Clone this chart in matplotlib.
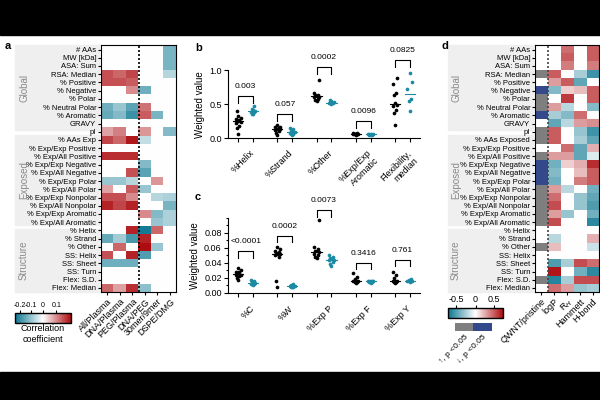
import numpy as np
import matplotlib.pyplot as plt
from matplotlib.colors import LinearSegmentedColormap, ListedColormap, TwoSlopeNorm
from matplotlib.patches import Rectangle
from matplotlib.cm import ScalarMappable

plt.rcParams['font.family'] = ['Liberation Sans', 'DejaVu Sans']
plt.rcParams['font.size'] = 6
plt.rcParams['axes.linewidth'] = 0.8

# ---------------- data ----------------
features = ['# AAs', 'MW [kDa]', 'ASA: Sum', 'RSA: Median', '% Positive', '% Negative',
            '% Polar', '% Neutral Polar', '% Aromatic', 'GRAVY', 'pI', '% AAs Exp',
            '% Exp/Exp Positive', '% Exp/All Positive', '% Exp/Exp Negative',
            '% Exp/All Negative', '% Exp/Exp Polar', '% Exp/All Polar',
            '% Exp/Exp Nonpolar', '% Exp/All Nonpolar', '% Exp/Exp Aromatic',
            '% Exp/All Aromatic', '% Helix', '% Strand', '% Other', 'SS: Helix',
            'SS: Sheet', 'SS: Turn', 'Flex: S.D.', 'Flex: Median']
features_d = features[:11] + ['% AAs Exposed'] + features[12:]

comparisons = ['All/Plasma', 'DNA/Plasma', 'PEG/Plasma', 'DNA/PEG', '30mer/9mer', 'DSPE/DMG']
all_plasma = [0, 0, 0, 0.15, 0.15, 0, 0, -0.14, -0.15, 0, 0.08, 0.16, 0, 0.18, 0,
              0, -0.10, 0.08, 0.15, 0.19, 0, 0, 0, -0.15, 0, 0.15, -0.14, 0, 0, 0.13]
dna_plasma = [0, 0, 0, 0.13, 0.15, 0, 0, -0.10, -0.12, 0, 0.11, 0.13, 0, 0.18, 0,
              0, -0.10, 0, 0.15, 0.16, 0, 0, 0, -0.09, 0.13, 0, -0.14, 0, 0, 0.08]
peg_plasma = [0, 0, 0, 0.16, 0.14, 0.10, 0, -0.16, -0.19, 0, 0, 0.20, 0, 0.18, 0,
              0.15, -0.07, 0.14, 0.10, 0.19, 0, 0, 0.19, -0.18, 0, 0.19, -0.14, 0, 0, 0.18]
dna_peg = [0, 0, 0, 0, 0, -0.14, 0, 0.12, 0.14, 0, 0.09, -0.06, 0, 0, -0.12,
           -0.16, 0, -0.10, 0, 0, 0.10, 0, -0.23, 0.19, 0.21, -0.17, 0, 0, 0, -0.11]
mer30_mer9 = [0, 0, 0, 0, 0, 0, 0, 0, -0.13, 0, 0, 0, 0, 0, 0,
              0, 0.09, 0, -0.07, 0, -0.12, -0.10, 0.13, 0, -0.10, 0, 0, 0, 0, 0]
dspe_dmg = [-0.13, -0.13, -0.13, -0.07, 0, 0, 0, 0, 0, 0, -0.12, 0, 0, 0, 0,
            0, 0, 0, -0.08, -0.13, -0.08, -0.08, 0, 0, 0, 0, 0, 0, 0, 0]

# QWNT/pristine significance: 0 none, 1 grey, 2 blue
qwnt_sig = [0, 0, 0, 1, 0, 2, 1, 1, 2, 0, 1, 1, 0, 1, 2,
            2, 2, 1, 1, 1, 1, 1, 0, 0, 1, 0, 0, 0, 1, 0]
descriptors = ['logP', 'R$_H$', 'Hammett', 'H-bond']
logp = [0, 0, 0, 0.5, 0.3, -0.35, 0, 0.3, -0.25, -0.45, 0.5, 0.5, 0, 0.3, -0.4,
        -0.35, -0.4, 0.3, 0.45, 0.55, 0.3, 0.55, 0, -0.2, 0.2, 0, -0.5, 0.72, -0.62, 0.45]
r_h = [0.45, 0.5, 0.4, 0, 0.5, 0.15, 0.6, -0.2, -0.35, -0.2, 0, 0, 0.45, 0.3, 0.15,
       0, 0, -0.2, 0, 0, -0.3, 0, 0, 0, 0, 0, -0.25, 0, -0.25, 0.3]
hammett = [0, 0, 0, -0.25, -0.45, 0.2, 0, 0, 0.45, 0.3, -0.3, -0.25, -0.45, -0.45, 0.25,
           0.2, 0.4, 0, -0.3, -0.3, 0, 0, 0, 0, 0, 0, 0.55, -0.4, 0.55, -0.3]
h_bond = [0.5, 0.5, 0.4, -0.55, 0, 0.5, 0.5, -0.35, 0, 0.35, -0.55, -0.45, 0.25, -0.1, 0.65,
          0.5, 0.5, -0.4, -0.45, -0.5, -0.4, -0.6, 0, 0.25, -0.15, 0, 0.45, -0.6, 0.55, -0.25]

# panel b
cats_b = ['%Helix', '%Strand', '%Other', '%Exp/Exp\nAromatic', 'Flexibility,\nmedian']
b_black = [[0.40, 0.32, 0.29, 0.28, 0.27, 0.26, 0.25, 0.24, 0.22, 0.18, 0.15, 0.07],
           [0.19, 0.17, 0.16, 0.15, 0.14, 0.14, 0.13, 0.12, 0.10, 0.08, 0.05],
           [0.86, 0.66, 0.64, 0.63, 0.62, 0.61, 0.60, 0.58, 0.56, 0.54],
           [0.08, 0.075, 0.07, 0.07, 0.065, 0.065, 0.06, 0.06, 0.055],
           [0.88, 0.79, 0.67, 0.63, 0.51, 0.49, 0.48, 0.41, 0.37, 0.19]]
b_teal = [[0.47, 0.43, 0.41, 0.40, 0.39, 0.38, 0.36, 0.35],
          [0.15, 0.13, 0.11, 0.10, 0.09, 0.08, 0.07, 0.06, 0.05],
          [0.56, 0.54, 0.53, 0.52, 0.52, 0.51, 0.50],
          [0.065, 0.06, 0.06, 0.06, 0.055, 0.055, 0.05],
          [0.96, 0.82, 0.72, 0.57, 0.54, 0.40]]
p_b = ['0.003', '0.057', '0.0002', '0.0096', '0.0825']
bracket_b = [0.62, 0.36, 1.04, 0.25, 1.15]

# panel c
cats_c = ['%C', '%W', '%Exp P', '%Exp F', '%Exp Y']
c_black = [[0.033, 0.030, 0.028, 0.027, 0.026, 0.025, 0.024, 0.023, 0.022, 0.020, 0.017],
           [0.061, 0.058, 0.056, 0.054, 0.053, 0.052, 0.051, 0.050, 0.048, 0.015, 0.007],
           [0.097, 0.061, 0.058, 0.056, 0.055, 0.054, 0.052, 0.050, 0.048, 0.046],
           [0.026, 0.021, 0.018, 0.016, 0.015, 0.015, 0.014, 0.014, 0.013],
           [0.028, 0.023, 0.019, 0.016, 0.015, 0.015, 0.014, 0.014, 0.013]]
c_teal = [[0.017, 0.015, 0.014, 0.013, 0.013, 0.012, 0.012, 0.011, 0.010],
          [0.011, 0.010, 0.009, 0.009, 0.009, 0.008, 0.008, 0.007],
          [0.050, 0.048, 0.046, 0.045, 0.044, 0.043, 0.041, 0.038, 0.035],
          [0.016, 0.016, 0.015, 0.015, 0.015, 0.014, 0.014, 0.013],
          [0.018, 0.017, 0.017, 0.016, 0.016, 0.015, 0.015, 0.014]]
p_c = ['<0.0001', '0.0002', '0.0073', '0.3416', '0.761']
bracket_c = [0.055, 0.076, 0.110, 0.040, 0.044]

# ---------------- helpers ----------------
W, H = 600, 400
TEAL = '#1d8aa3'
GREYBAND = '#efefef'
cmap = LinearSegmentedColormap.from_list('tr', ['#0a7690', '#ffffff', '#ad0c10'])
norm_a = TwoSlopeNorm(vmin=-0.24, vcenter=0, vmax=0.21)
norm_d = TwoSlopeNorm(vmin=-0.7, vcenter=0, vmax=0.75)


def box(x0, y0, x1, y1):
    return [x0 / W, 1 - y1 / H, (x1 - x0) / W, (y1 - y0) / H]


fig = plt.figure(figsize=(6, 4), dpi=100)
fig.patches.append(Rectangle((0, 1 - 35 / H), 1, 35 / H, transform=fig.transFigure,
                             color='black', zorder=-5))
fig.patches.append(Rectangle((0, 0), 1, 28 / H, transform=fig.transFigure,
                             color='black', zorder=-5))


def group_bands(x0, x1, labx):
    for (y0, y1, name) in [(45, 130, 'Global'), (135, 225, 'Exposed'), (229, 292, 'Structure')]:
        fig.patches.append(Rectangle((x0 / W, 1 - y1 / H), (x1 - x0) / W, (y1 - y0) / H,
                                     transform=fig.transFigure, color=GREYBAND, zorder=-4))
        fig.text(labx / W, 1 - (y0 + y1) / 2 / H, name, rotation=90, ha='center',
                 va='center', color='#8a8a8a', fontsize=7)


def style_heat(ax, labels, xlabels):
    ax.set_yticks(range(len(labels)))
    ax.set_yticklabels(labels, fontsize=5.5)
    ax.set_xticks(range(len(xlabels)))
    ax.set_xticklabels(xlabels, rotation=45, ha='right', rotation_mode='anchor', fontsize=6.5)
    ax.tick_params(length=2.5, width=0.8, pad=1)


# ---------------- panel a ----------------
group_bands(15, 99, 24)
ax_a = fig.add_axes(box(101, 45.4, 176, 292.1))
mat_a = np.column_stack([all_plasma, dna_plasma, peg_plasma, dna_peg, mer30_mer9, dspe_dmg])
ax_a.imshow(mat_a, cmap=cmap, norm=norm_a, aspect='auto', interpolation='nearest')
ax_a.axvline(2.5, color='black', lw=1.2, ls=(0, (1.2, 1.2)))
style_heat(ax_a, features, comparisons)

cax_a = fig.add_axes(box(15, 313, 71, 323))
cb = fig.colorbar(ScalarMappable(norm_a, cmap), cax=cax_a, orientation='horizontal')
cb.set_ticks([-0.2, -0.1, 0, 0.1])
cb.set_ticklabels(['-0.2', '-0.1', '0', '0.1'])
cax_a.xaxis.set_ticks_position('top')
cax_a.tick_params(labelsize=5.1, length=2, pad=1)
cb.outline.set_linewidth(1)
fig.text(43 / W, 1 - 334 / H, 'Correlation\ncoefficient', ha='center', va='center', fontsize=6.5)

# ---------------- panel d ----------------
group_bands(448, 533, 456)
ax_d = fig.add_axes(box(535, 45.4, 599, 292.1))
sig_cmap = ListedColormap(['#ffffff', '#7f7f7f', '#34498c'])
ax_d.imshow(np.array(qwnt_sig)[:, None], cmap=sig_cmap, vmin=-0.5, vmax=2.5, aspect='auto',
            interpolation='nearest', extent=(-0.5, 0.5, 29.5, -0.5))
mat_d = np.column_stack([logp, r_h, hammett, h_bond])
ax_d.imshow(mat_d, cmap=cmap, norm=norm_d, aspect='auto', interpolation='nearest',
            extent=(0.5, 4.5, 29.5, -0.5))
ax_d.set_xlim(-0.5, 4.5)
ax_d.set_ylim(29.5, -0.5)
ax_d.axvline(0.5, color='#444444', lw=1.2, ls=(0, (1.2, 1.2)))
style_heat(ax_d, features_d, ['QWNT/pristine'] + descriptors)

cax_d = fig.add_axes(box(448, 308, 503, 318))
cb = fig.colorbar(ScalarMappable(norm_d, cmap), cax=cax_d, orientation='horizontal')
cb.set_ticks([-0.5, 0, 0.5])
cb.set_ticklabels(['-0.5', '0', '0.5'])
cax_d.xaxis.set_ticks_position('top')
cax_d.tick_params(labelsize=6.5, length=2, pad=1)
cb.outline.set_linewidth(1)

lax = fig.add_axes(box(455, 323, 492, 331))
lax.imshow([[1, 2]], cmap=sig_cmap, vmin=-0.5, vmax=2.5, aspect='auto')
lax.set_xticks([0, 1])
lax.set_xticklabels(['\u2191, p <0.05', '\u2193, p <0.05'], rotation=45, ha='right',
                    rotation_mode='anchor', fontsize=6)
lax.set_yticks([])
lax.tick_params(length=0, pad=2)
for s in lax.spines.values():
    s.set_visible(False)


# ---------------- panels b, c ----------------
def spread(vals, width=0.06):
    vals = np.asarray(vals)
    order = np.argsort(vals)
    offs = np.zeros(len(vals))
    pattern = [0, -1, 1, -2, 2]
    for rank, idx in enumerate(order):
        offs[idx] = pattern[rank % 5] * width / 2
    return offs


def strip_panel(ax, black, teal, cats, pvals, brackets, ylim, leg):
    d = 0.19
    ticks = []
    for i, (bk, tl) in enumerate(zip(black, teal)):
        for vals, pos, col in [(bk, i - d, 'black'), (tl, i + d, TEAL)]:
            ax.scatter(pos + spread(vals), vals, s=7, color=col, lw=0, zorder=3, clip_on=False)
            m = np.median(vals)
            ax.plot([pos - 0.13, pos + 0.13], [m, m], color=col, lw=0.8, zorder=4)
            ticks.append(pos)
        h = brackets[i]
        ax.plot([i - d, i - d, i + d, i + d], [h - leg, h, h, h - leg], color='black',
                lw=0.8, clip_on=False)
        ax.text(i, h + leg * 0.9, pvals[i], ha='center', va='bottom', fontsize=6)
    ax.set_xticks(ticks)
    ax.set_xticklabels([])
    for i, c in enumerate(cats):
        ax.text(i + 0.1, -ylim[1] * 0.15, c, rotation=45, ha='right', va='top',
                rotation_mode='anchor', fontsize=6.5, transform=ax.transData)
    ax.set_xlim(-0.45, 4.45)
    ax.set_ylim(*ylim)
    ax.spines['top'].set_visible(False)
    ax.spines['right'].set_visible(False)
    ax.tick_params(length=3, width=0.8, labelsize=6.5, pad=1.5)
    ax.tick_params(which='minor', length=1.8, width=0.8)
    ax.set_ylabel('Weighted value', fontsize=7, labelpad=3)


ax_b = fig.add_axes(box(228, 70, 420, 138.3))
strip_panel(ax_b, b_black, b_teal, cats_b, p_b, bracket_b, (0, 1.0), 0.1)
ax_b.set_yticks([0, 0.5, 1.0])
ax_b.set_yticklabels(['0.0', '0.5', '1.0'])

ax_c = fig.add_axes(box(228, 217.7, 420, 292.7))
strip_panel(ax_c, c_black, c_teal, cats_c, p_c, bracket_c, (0, 0.1), 0.009)
ax_c.set_yticks([0, 0.02, 0.04, 0.06, 0.08])
ax_c.set_yticklabels(['0.00', '0.02', '0.04', '0.06', '0.08'])
ax_c.set_yticks(np.arange(0, 0.101, 0.01), minor=True)

for lab, x, y in [('a', 5, 46), ('b', 195, 48), ('c', 195, 197), ('d', 441, 46)]:
    fig.text(x / W, 1 - y / H, lab, fontsize=8, fontweight='bold', va='center')

fig.savefig('out.png', dpi=100)
